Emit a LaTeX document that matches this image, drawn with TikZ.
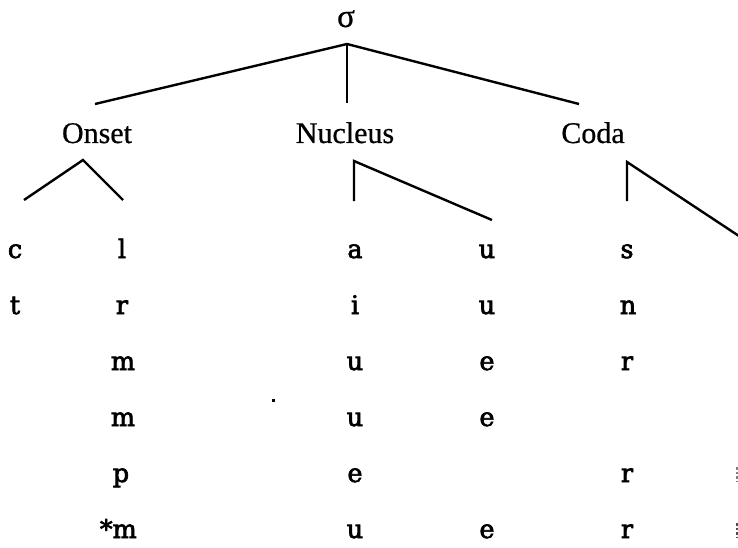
\documentclass[tikz,border=0pt]{standalone}
\usepackage{fontspec}
\setmainfont{Liberation Serif}[FakeBold=0.6]
\newfontfamily\segfont{DejaVu Serif}[FakeBold=2.6]
\begin{document}
\begin{tikzpicture}[x=1pt,y=-1pt,
  lab/.style={font=\fontsize{30}{32}\selectfont, inner sep=0pt, anchor=base},
  seg/.style={font=\segfont\fontsize{25.5}{27}\selectfont, inner sep=0pt, anchor=base},
  br/.style={line width=2.4pt, line join=miter}]
\useasboundingbox (0,0) rectangle (738,548);
\begin{scope}
\clip (0,0) rectangle (738,548);
% labels
\node[lab, font=\fontsize{33}{34}\selectfont] (sigma) at (346,27) {σ};
\node[lab] (onset) at (97,143) {Onset};
\node[lab] (nucleus) at (345,143) {Nucleus};
\node[lab] (coda) at (593,143) {Coda};
% top branch points
\coordinate (sA) at (347,44);
\coordinate (oT) at (95,104);
\coordinate (nT) at (347,103);
\coordinate (cT) at (579,104);
\draw[br] (oT) -- (sA) -- (cT);
\draw[br] (sA) -- (nT);
% onset branches
\coordinate (oA) at (83,160);
\coordinate (oL) at (24,200);
\coordinate (oR) at (123,200);
\draw[br] (oL) -- (oA) -- (oR);
% nucleus branches
\coordinate (nA) at (354,161);
\coordinate (nL) at (354,201);
\coordinate (nR) at (492,220);
\draw[br] (nL) -- (nA) -- (nR);
% coda branches
\coordinate (cA) at (627,162);
\coordinate (cL) at (627,201);
\coordinate (cR) at (745,240);
\draw[br] (cL) -- (cA) -- (cR);
% segments
\node[seg] (c1) at (15,258) {c};
\node[seg] (c2) at (15,314) {t};
\node[seg] (l1) at (122,258) {l};
\node[seg] (l2) at (122,314) {r};
\node[seg] (l3) at (123,370) {m};
\node[seg] (l4) at (123,426) {m};
\node[seg] (l5) at (121,482) {p};
\node[seg,anchor=base east] (l6) at (137,538) {*m};
\node[seg] (a1) at (355,258) {a};
\node[seg] (a2) at (355,314) {i};
\node[seg] (a3) at (355,370) {u};
\node[seg] (a4) at (355,426) {u};
\node[seg] (a5) at (355,482) {e};
\node[seg] (a6) at (355,538) {u};
\node[seg] (b1) at (487,258) {u};
\node[seg] (b2) at (487,314) {u};
\node[seg] (b3) at (487,370) {e};
\node[seg] (b4) at (487,426) {e};
\node[seg] (b6) at (487,538) {e};
\node[seg] (s1) at (627,258) {s};
\node[seg] (s2) at (628,314) {n};
\node[seg] (s3) at (627,370) {r};
\node[seg] (s5) at (627,482) {r};
\node[seg] (s6) at (627,538) {r};
% stray dot
\fill (271.5,398.5) rectangle (274.5,401.5);
% clipped marks at right edge
\draw[gray, line width=1.6pt, dash pattern=on 2.5pt off 2pt] (737,467) -- (737,481);
\draw[black!70, line width=1.6pt, dash pattern=on 2.5pt off 2pt] (737,523) -- (737,537);
\end{scope}
\end{tikzpicture}
\end{document}
